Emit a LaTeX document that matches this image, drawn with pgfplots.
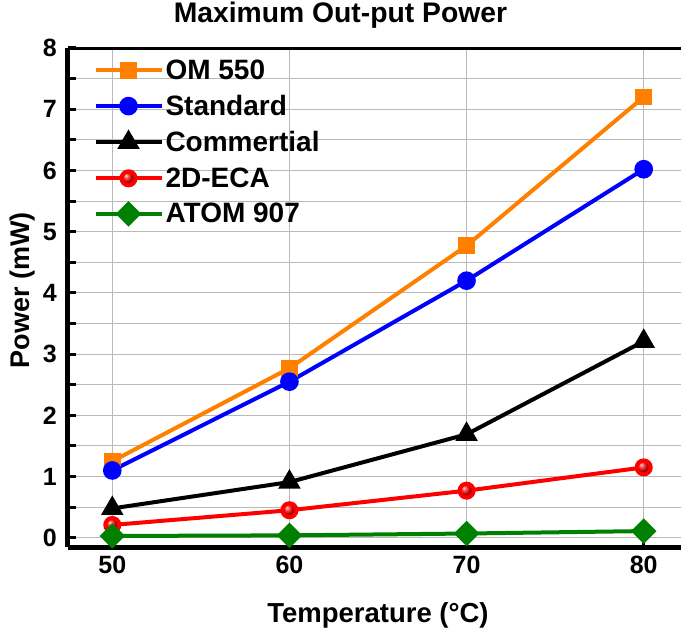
\documentclass[border=0pt]{standalone}
\usepackage{pgfplots}
\pgfplotsset{compat=1.18}
\usepackage{fontspec}
\setmainfont{Liberation Sans}
\definecolor{omorange}{RGB}{255,128,0}
\definecolor{stdblue}{RGB}{0,0,255}
\definecolor{ecared}{RGB}{255,0,0}
\definecolor{atomgreen}{RGB}{0,128,0}
\begin{document}
\begin{tikzpicture}
\begin{axis}[
  name=ax,
  scale only axis,
  width=620pt, height=499pt,
  xmin=47.5, xmax=82.5,
  ymin=-0.15, ymax=8,
  axis x line*=bottom,
  axis y line*=left,
  axis line style={line width=5pt, black},
  xtick={50,60,70,80},
  ytick={0,1,2,3,4,5,6,7,8},
  minor y tick num=1,
  tick align=inside,
  major tick length=8pt,
  minor tick length=8pt,
  every tick/.style={black, line width=3pt},
  xmajorgrids, ymajorgrids, yminorgrids,
  major grid style={draw=gray!55, line width=1pt},
  minor grid style={draw=gray!55, line width=1pt},
  /pgf/number format/assume math mode=true,
  tick label style={font=\fontsize{25}{30}\selectfont\bfseries},
  xticklabel style={anchor=base, yshift=-27pt, inner sep=0pt},
  yticklabel style={anchor=east, xshift=-11pt, inner sep=0pt},
  title={Maximum Out-put Power},
  title style={at={(axis description cs:0.4395,1.040)}, anchor=base, inner sep=0pt, font=\fontsize{28.3}{32}\selectfont\bfseries},
  xlabel={Temperature (°C)},
  every axis x label/.style={at={(axis description cs:0.50,-0.1523)}, anchor=base, inner sep=0pt, font=\fontsize{27.5}{30}\selectfont\bfseries},
  ylabel={Power (mW)},
  every axis y label/.style={at={(axis description cs:-0.0734,0.515)}, anchor=center, rotate=90, inner sep=0pt, font=\fontsize{27}{30}\selectfont\bfseries},
  legend style={at={(0.036,0.985)}, anchor=north west, draw=none, fill=none, row sep=10.5pt,
    font=\fontsize{28}{32}\selectfont\bfseries},
  legend cell align=left,
  legend image code/.code={\draw[mark repeat=2,mark phase=2,#1] plot coordinates {(0pt,0pt) (33pt,0pt) (66pt,0pt)};},
  every axis plot/.append style={line width=4pt},
]
\addplot[color=omorange, mark=square*, mark size=6.4pt, mark options={solid}] coordinates {(50,1.25) (60,2.77) (70,4.77) (80,7.20)};
\addlegendentry{OM 550}
\addplot[color=stdblue, mark=*, mark size=7.3pt] coordinates {(50,1.10) (60,2.55) (70,4.20) (80,6.02)};
\addlegendentry{Standard}
\addplot[color=black, mark=triangle*, mark size=9pt] coordinates {(50,0.48) (60,0.91) (70,1.69) (80,3.21)};
\addlegendentry{Commertial}
\addplot[color=ecared, mark=ball, mark size=7pt, mark options={ball color=ecared}] coordinates {(50,0.21) (60,0.45) (70,0.77) (80,1.15)};
\addlegendentry{2D-ECA}
\addplot[color=atomgreen, mark=square*, mark size=7pt, mark options={rotate=45}] coordinates {(50,0.03) (60,0.04) (70,0.07) (80,0.11)};
\addlegendentry{ATOM 907}
\draw[line width=5pt, black] (rel axis cs:0,1) -- (rel axis cs:1,1);
\end{axis}
\pgfresetboundingbox
\path[use as bounding box] ([xshift=-68pt,yshift=-88pt]ax.south west) rectangle ([xshift=613pt,yshift=48pt]ax.north west);
\end{tikzpicture}
\end{document}
